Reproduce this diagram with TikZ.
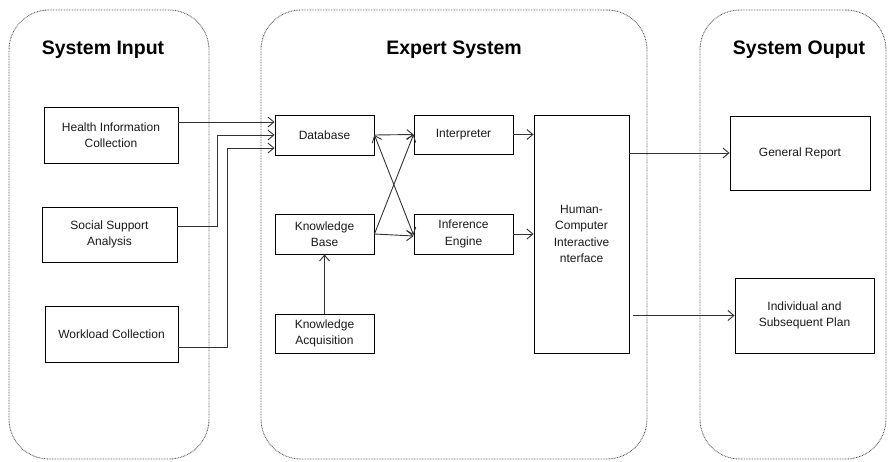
\documentclass[tikz,border=0pt]{standalone}
\usepackage{fontspec}
\setmainfont{Liberation Sans}
\usetikzlibrary{arrows.meta}
\begin{document}
\begin{tikzpicture}[x=1pt,y=-1pt,
 container/.style={draw=black!65, line width=0.9pt, dash pattern=on 0.8pt off 0.8pt, rounded corners=40pt, rectangle, inner sep=0pt},
 box/.style={draw=black, line width=0.9pt, rectangle, align=center, font=\fontsize{12}{16.5}\selectfont, inner sep=0pt, text=black!90},
 title/.style={font=\fontsize{19.5}{22}\selectfont\bfseries},
 conn/.style={draw=black!80, line width=0.9pt, -{Straight Barb[length=6pt,width=10pt]}},
 conn2/.style={draw=black!80, line width=0.9pt, {Straight Barb[length=6pt,width=10pt]}-{Straight Barb[length=6pt,width=10pt]}}]
\useasboundingbox (0,0) rectangle (888,461);
% containers
\node[container, minimum width=200pt, minimum height=449pt] (cin) at (109,234.5) {};
\node[container, minimum width=386pt, minimum height=449pt] (cexp) at (454,234.5) {};
\node[container, minimum width=186pt, minimum height=449pt] (cout) at (793,234.5) {};
% titles
\node[title] (tin) at (103,50) {System Input};
\node[title] (texp) at (454,50) {Expert System};
\node[title] (tout) at (799,50) {System Ouput};
% boxes
\node[box, minimum width=134pt, minimum height=56pt] (health) at (111,135) {Health Information\\Collection};
\node[box, minimum width=135pt, minimum height=55pt] (social) at (109.5,234.5) {Social Support\\Analysis};
\node[box, minimum width=133pt, minimum height=56pt] (work) at (111.5,334) {Workload Collection};
\node[box, minimum width=99pt, minimum height=40pt] (db) at (324.5,135) {Database};
\node[box, minimum width=99pt, minimum height=40pt] (kb) at (324.5,234) {Knowledge\\Base};
\node[box, minimum width=99pt, minimum height=39pt] (ka) at (324.5,333.5) {Knowledge\\Acquisition};
\node[box, minimum width=99pt, minimum height=39pt] (interp) at (463.5,134.5) {Interpreter};
\node[box, minimum width=99pt, minimum height=40pt] (inf) at (463.5,234) {Inference\\Engine};
\node[box, minimum width=95pt, minimum height=238pt] (hci) at (581.5,234) {Human-\\Computer\\Interactive\\nterface};
\node[box, minimum width=140pt, minimum height=74pt] (gr) at (800,153) {General Report};
\node[box, minimum width=139pt, minimum height=75pt] (plan) at (804.5,315.5) {Individual and\\Subsequent Plan};
% bend points
\coordinate (s1) at (217,135);
\coordinate (w1) at (227,148);
% connectors
\draw[conn] ([yshift=13pt]health.east) -- ([yshift=13pt]db.west);
\draw[conn] ([yshift=8.5pt]social.east) -| (s1) -- (db.west);
\draw[conn] ([yshift=-13pt]work.east) -| (w1) -- ([yshift=-13pt]db.west);
\draw[conn] (db.east) -- (interp.west);
\draw[conn2] (db.east) -- ([yshift=-1pt]inf.west);
\draw[conn] (kb.east) -- (interp.west);
\draw[conn] (kb.east) -- ([yshift=-2pt]inf.west);
\draw[conn] (interp.east) -- (interp.east -| hci.west);
\draw[conn] (inf.east) -- (inf.east -| hci.west);
\draw[conn] (ka.north) -- (kb.south);
\draw[conn] (hci.east |- gr.west) -- (gr.west);
\draw[conn] ([xshift=4pt]hci.east |- plan.west) -- (plan.west);
\end{tikzpicture}
\end{document}
